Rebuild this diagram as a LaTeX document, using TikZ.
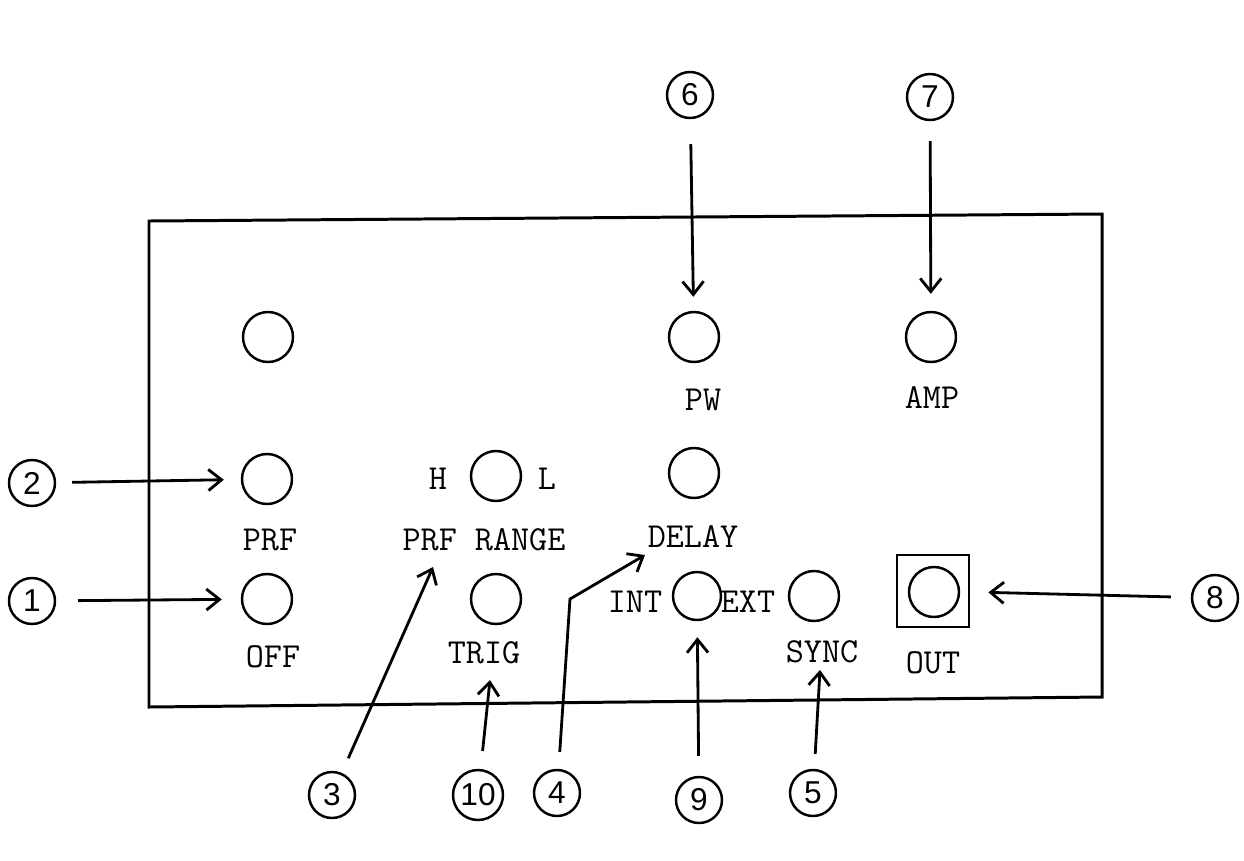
\documentclass[tikz,border=0pt]{standalone}
\usepackage{fontspec}
\newfontfamily\numfont{Liberation Sans}
\usetikzlibrary{arrows.meta}
\begin{document}
\begin{tikzpicture}[x=0.02cm,y=-0.02cm,
  knob/.style={circle,draw,line width=1.4pt,minimum size=1cm,inner sep=0pt},
  callout/.style={circle,draw,line width=1.4pt,minimum size=0.92cm,inner sep=0pt,font=\numfont\fontsize{18}{19}\selectfont},
  lab/.style={inner sep=0pt,font=\ttfamily\fontsize{20}{22}\selectfont},
  arr/.style={line width=1.6pt,-{Straight Barb[length=7.5pt,width=12pt,line width=1.6pt]}},
  panel/.style={line width=1.7pt}]
\useasboundingbox (0,0) rectangle (1244,860);
% panel
\draw[panel] (149,221) -- (1102,214) -- (1102,697) -- (149,707) -- cycle;
% knobs
\node[knob] (blank) at (268,337) {};
\node[knob] (pw) at (694,337) {};
\node[knob] (amp) at (931,337) {};
\node[knob] (prf) at (267,479) {};
\node[knob] (prfr) at (496,476) {};
\node[knob] (delay) at (694,473) {};
\node[knob] (off) at (267,599) {};
\node[knob] (trig) at (496,599) {};
\node[knob,minimum size=0.96cm] (ie) at (697,596) {};
\node[knob] (sync) at (814,596) {};
\node[draw,line width=1.6pt,minimum size=1.44cm,inner sep=0pt] (outbox) at (933,591) {};
\node[knob] (out) at (934,592) {};
% labels
\node[lab] (lpw) at (703,400) {PW};
\node[lab] (lamp) at (932,398) {AMP};
\node[lab] (lprf) at (270,540) {PRF};
\node[lab] (lh) at (438,479) {H};
\node[lab] (ll) at (547,479) {L};
\node[lab] (lprfr) at (484,540) {PRF RANGE};
\node[lab] (ldelay) at (693,537) {DELAY};
\node[lab] (loff) at (273,657) {OFF};
\node[lab] (ltrig) at (484,653) {TRIG};
\node[lab] (lint) at (635,602) {INT};
\node[lab] (lext) at (748,602) {EXT};
\node[lab] (lsync) at (822,652) {SYNC};
\node[lab] (lout) at (933,663) {OUT};
% callouts
\node[callout] (c1) at (32,601) {1};
\node[callout] (c2) at (32,483) {2};
\node[callout] (c3) at (332,795) {3};
\node[callout] (c4) at (557,793) {4};
\node[callout] (c5) at (813,793) {5};
\node[callout] (c6) at (690,95) {6};
\node[callout] (c7) at (930,97) {7};
\node[callout] (c8) at (1215,598) {8};
\node[callout] (c9) at (699,800) {9};
\node[callout,minimum size=1cm] (c10) at (478,795) {10};
% free ends
\coordinate (t3) at (433,567);
\coordinate (b4) at (570,599);
\coordinate (t4) at (645,555);
\coordinate (t5) at (820,670);
\coordinate (t10) at (490,680);
% connectors
\draw[arr,shorten <=0.5cm,shorten >=0.28cm] (c6) -- (pw);
\draw[arr,shorten <=0.4cm,shorten >=0.34cm] (c7) -- (amp);
\draw[arr,shorten <=0.32cm,shorten >=0.34cm] (c2) -- (prf);
\draw[arr,shorten <=0.44cm,shorten >=0.38cm] (c1) -- (off);
\draw[arr,shorten <=0.4cm,shorten >=0.36cm] (c8) -- (outbox);
\draw[arr,shorten <=0.32cm] (c3) -- (t3);
\draw[arr,shorten <=0.34cm] (c4) -- (b4) -- (t4);
\draw[arr,shorten <=0.3cm] (c5) -- (t5);
\draw[arr,shorten <=0.36cm] (c10) -- (t10);
\draw[arr,shorten <=0.4cm,shorten >=0.32cm] (c9) -- (ie);
\end{tikzpicture}
\end{document}
